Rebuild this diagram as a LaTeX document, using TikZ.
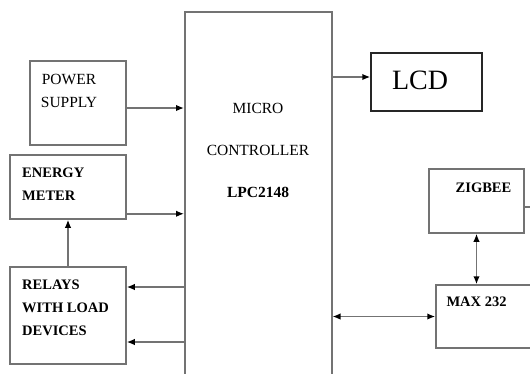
\documentclass[tikz,border=0pt]{standalone}
\usepackage{fontspec}
\setmainfont{Liberation Serif}
\usetikzlibrary{positioning,arrows.meta}

\begin{document}
\begin{tikzpicture}[x=1pt, y=-1pt,
  blk/.style = {draw=black!55, line width=1.5pt, fill=white, inner sep=0pt},
  lbl/.style = {font=\fontsize{15.5}{23}\selectfont, inner sep=0pt},
  bld/.style = {font=\fontsize{14.5}{23}\selectfont\bfseries, align=left, inner sep=0pt},
  flw/.style = {-{Latex[length=8pt,width=6.5pt,color=black]}, draw=black!55, line width=1.5pt},
  both/.style = {{Latex[length=8pt,width=6.5pt,color=black]}-{Latex[length=8pt,width=6.5pt,color=black]},
                 draw=black!55, line width=1.5pt}
]
\useasboundingbox (0,0) rectangle (530,373);
\clip (0,0) rectangle (530,373);

% --- micro controller (runs off the bottom) ---
\node[blk, minimum width=147, minimum height=379, anchor=north west] (mcu) at (184,11) {};
\node[lbl, align=center, font=\fontsize{15.5}{42}\selectfont] (mcut) at (258,150)
  {MICRO\\CONTROLLER\\\textbf{LPC2148}};

% --- left column ---
\node[blk, minimum width=96, minimum height=84] (power) at (78,103) {};
\node[lbl, align=center] (powert) at (69,91) {POWER\\SUPPLY};

\node[blk, minimum width=116, minimum height=64] (energy) at (68,187) {};
\node[bld, anchor=west] (energyt) at (22,184) {ENERGY\\METER};

\node[blk, minimum width=116, minimum height=97] (relays) at (68,315.5) {};
\node[bld, anchor=west] (relayst) at (22,307.5) {RELAYS\\WITH LOAD\\DEVICES};

% --- right column ---
\node[blk, draw=black!85, minimum width=111, minimum height=58] (lcd) at (426.5,82)
  {};
\node[lbl, font=\fontsize{28}{30}\selectfont] (lcdt) at (420,80) {LCD};

\node[blk, minimum width=95, minimum height=64] (zigbee) at (476.5,201) {};
\node[bld] (zigbeet) at (483.5,188) {ZIGBEE};
\coordinate (zout) at (545,207);

\node[blk, minimum width=144, minimum height=63] (max) at (508,316.5) {};
\node[bld] (maxt) at (476.5,302) {MAX 232};

% --- connectors ---
\draw[flw] ([yshift=-5pt]power.east) -- ([yshift=-5pt]power.east -| mcu.west);
\draw[flw] ([yshift=6pt]energy.south east) -- ([yshift=6pt]energy.south east -| mcu.west);
\draw[flw] ([yshift=28.5pt]relays.east -| mcu.west) -- ([yshift=28.5pt]relays.east);
\draw[flw] ([yshift=-26.5pt]relays.east -| mcu.west) -- ([yshift=-26.5pt]relays.east);
\draw[flw] (relays.north) -- (energy.south);
\draw[flw] ([yshift=5pt]lcd.west -| mcu.east) -- ([yshift=5pt]lcd.west);
\draw[both] (zigbee.south) -- (zigbee.south |- max.north);
\draw[both] (max.west -| mcu.east) -- (max.west);
\draw[draw=black!55, line width=1.5pt] (zigbee.east |- zout) -- (zout);
\end{tikzpicture}
\end{document}
